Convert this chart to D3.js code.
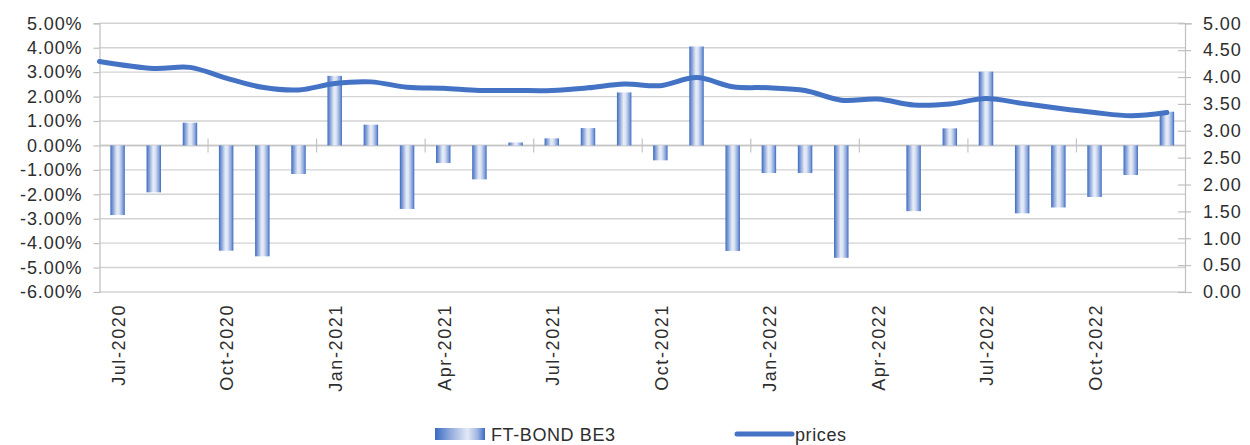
<!DOCTYPE html>
<html>
<head>
<meta charset="utf-8">
<script src="https://cdn.jsdelivr.net/npm/d3@7"></script>
<style>
  html, body { margin: 0; padding: 0; background: #ffffff; }
  svg { display: block; }
  text { font-family: "Liberation Sans", Arial, sans-serif; }
</style>
</head>
<body>
<svg id="chart" width="1250" height="445"></svg>
<script>
// ---------- data ----------
const categories = [
  "Jul-2020","Aug-2020","Sep-2020","Oct-2020","Nov-2020","Dec-2020",
  "Jan-2021","Feb-2021","Mar-2021","Apr-2021","May-2021","Jun-2021",
  "Jul-2021","Aug-2021","Sep-2021","Oct-2021","Nov-2021","Dec-2021",
  "Jan-2022","Feb-2022","Mar-2022","Apr-2022","May-2022","Jun-2022",
  "Jul-2022","Aug-2022","Sep-2022","Oct-2022","Nov-2022","Dec-2022"
];
const bondReturns = [
  -2.85, -1.92, 0.93, -4.31, -4.54, -1.17,
   2.85,  0.85, -2.60, -0.72, -1.39, 0.12,
   0.29,  0.71,  2.17, -0.61,  4.05, -4.32,
  -1.13, -1.13, -4.60,  0.00, -2.69, 0.70,
   3.02, -2.78, -2.54, -2.11, -1.21, 1.38
];
const prices = [
  4.29, 4.16, 4.18, 3.98, 3.81, 3.76,
  3.88, 3.91, 3.81, 3.79, 3.75, 3.75,
  3.75, 3.80, 3.87, 3.84, 3.99, 3.82,
  3.80, 3.75, 3.57, 3.59, 3.48, 3.50,
  3.60, 3.51, 3.42, 3.34, 3.28, 3.34
];
const xTickLabels = ["Jul-2020","Oct-2020","Jan-2021","Apr-2021","Jul-2021",
                     "Oct-2021","Jan-2022","Apr-2022","Jul-2022","Oct-2022"];
const leftTicks = [-6,-5,-4,-3,-2,-1,0,1,2,3,4,5];
const rightTicks = [0,0.5,1,1.5,2,2.5,3,3.5,4,4.5,5];
const seriesNames = ["FT-BOND BE3", "prices"];

// ---------- layout ----------
const L = 99.5, R = 1185, T = 23.3, B = 292;
const svg = d3.select("#chart");
const textColor = "#2e2e2e";
const blue = "#4472C4";

const x = d3.scaleBand().domain(categories).range([L, R])
  .paddingInner(0.6).paddingOuter(0.3);
const step = x.step();
const yL = d3.scaleLinear().domain([-6, 5]).range([B, T]);
const yR = d3.scaleLinear().domain([0, 5]).range([B, T]);

// gradient
const defs = svg.append("defs");
const grad = defs.append("linearGradient").attr("id", "barGrad")
  .attr("x1", "0%").attr("x2", "100%").attr("y1", "0%").attr("y2", "0%");
[[0, "#3a6bc2"], [0.14, "#7594d2"], [0.45, "#e6ecf7"], [0.6, "#dde5f4"],
 [0.86, "#86a2da"], [1, "#3a6bc2"]].forEach(([o, c]) =>
  grad.append("stop").attr("offset", o).attr("stop-color", c));
const lgGrad = defs.append("linearGradient").attr("id", "legGrad")
  .attr("x1", "0%").attr("x2", "100%").attr("y1", "0%").attr("y2", "0%");
[[0, "#3a6bc2"], [0.3, "#8fa9dc"], [0.65, "#e3e9f6"], [0.85, "#9fb5e2"], [1, "#3a6bc2"]]
  .forEach(([o, c]) => lgGrad.append("stop").attr("offset", o).attr("stop-color", c));

// gridlines
svg.append("g").selectAll("line").data(leftTicks).join("line")
  .attr("x1", L).attr("x2", R)
  .attr("y1", d => yL(d)).attr("y2", d => yL(d))
  .attr("stroke", "#d3d3d3").attr("stroke-width", 1.4);

// left axis
const axL = svg.append("g").attr("transform", `translate(${L},0)`)
  .call(d3.axisLeft(yL).tickValues(leftTicks).tickSize(6).tickPadding(11)
    .tickFormat(d => d.toFixed(2) + "%"));
axL.select(".domain").attr("stroke", "#bfbfbf").attr("stroke-width", 1.2);
axL.selectAll(".tick line").attr("stroke", "#bfbfbf").attr("stroke-width", 1.2);
axL.selectAll("text").attr("fill", textColor).style("font-size", "18px")
  .style("letter-spacing", "0.9px").style("font-family", "Liberation Sans, Arial, sans-serif");

// right axis
const axR = svg.append("g").attr("transform", `translate(${R},0)`)
  .call(d3.axisRight(yR).tickValues(rightTicks).tickSize(7).tickPadding(11)
    .tickFormat(d => d.toFixed(2)));
axR.select(".domain").attr("stroke", "#bfbfbf").attr("stroke-width", 1.2);
axR.selectAll(".tick line").attr("x1", -7).attr("x2", 6)
  .attr("stroke", "#bfbfbf").attr("stroke-width", 1.2);
axR.selectAll("text").attr("fill", textColor).style("font-size", "18px")
  .style("letter-spacing", "0.9px").style("font-family", "Liberation Sans, Arial, sans-serif");

// category axis at zero
const y0 = yL(0);
svg.append("line").attr("x1", L).attr("x2", R).attr("y1", y0).attr("y2", y0)
  .attr("stroke", "#c4c4c4").attr("stroke-width", 1.5);
const catTicks = categories.filter((c, i) => i > 0 && i % 3 === 0);
svg.append("g").selectAll("line").data(catTicks).join("line")
  .attr("x1", c => x(c) + x.bandwidth() / 2 - step / 2)
  .attr("x2", c => x(c) + x.bandwidth() / 2 - step / 2)
  .attr("y1", y0 - 7).attr("y2", y0 + 7)
  .attr("stroke", "#c4c4c4").attr("stroke-width", 1.2);

// bars
svg.append("g").selectAll("rect").data(categories).join("rect")
  .attr("x", c => x(c))
  .attr("width", x.bandwidth())
  .attr("y", (c, i) => Math.min(yL(bondReturns[i]), y0))
  .attr("height", (c, i) => Math.abs(yL(bondReturns[i]) - y0))
  .attr("fill", "url(#barGrad)");

// price line
const pts = categories.map((c, i) => [
  i === 0 ? L : x(c) + x.bandwidth() / 2,
  yR(prices[i])
]);
svg.append("path")
  .attr("d", d3.line().curve(d3.curveCatmullRom.alpha(0.5))(pts))
  .attr("fill", "none").attr("stroke", blue).attr("stroke-width", 5)
  .attr("stroke-linecap", "round").attr("stroke-linejoin", "round");

// x labels
svg.append("g").selectAll("text").data(xTickLabels).join("text")
  .attr("transform", c => `translate(${x(c) + x.bandwidth() / 2 + 1},304) rotate(-90)`)
  .attr("text-anchor", "end").attr("dy", "0.35em")
  .attr("fill", textColor).style("font-size", "18px").style("letter-spacing", "1.6px")
  .text(c => c);

// legend
const lg = svg.append("g");
lg.append("rect").attr("x", 435).attr("y", 428).attr("width", 50).attr("height", 12)
  .attr("fill", "url(#legGrad)");
lg.append("text").attr("x", 491).attr("y", 440.5).attr("fill", textColor)
  .style("font-size", "18px").style("letter-spacing", "0.6px").text(seriesNames[0]);
lg.append("line").attr("x1", 737).attr("x2", 792).attr("y1", 434).attr("y2", 434)
  .attr("stroke", blue).attr("stroke-width", 5).attr("stroke-linecap", "round");
lg.append("text").attr("x", 795).attr("y", 440.5).attr("fill", textColor)
  .style("font-size", "18px").style("letter-spacing", "0.6px").text(seriesNames[1]);
</script>
</body>
</html>
